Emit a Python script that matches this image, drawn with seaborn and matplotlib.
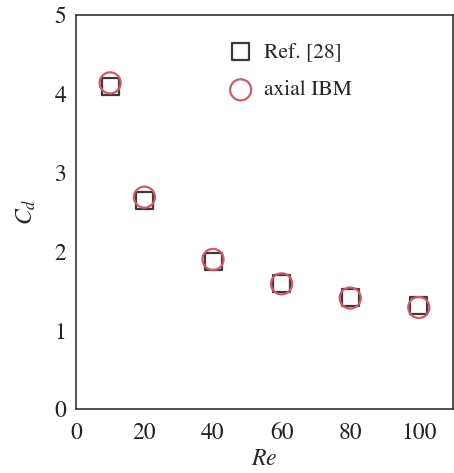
import matplotlib
matplotlib.use("Agg")
import matplotlib.pyplot as plt
import seaborn as sns
import pandas as pd

re_values = [10, 20, 40, 60, 80, 100]
cd_ref = [4.09, 2.65, 1.87, 1.59, 1.42, 1.31]
cd_ibm = [4.14, 2.69, 1.90, 1.59, 1.41, 1.29]
x_ticks = [0, 20, 40, 60, 80, 100]
y_ticks = [0, 1, 2, 3, 4, 5]

sns.set_style("white")
plt.rcParams["font.family"] = "serif"
plt.rcParams["font.serif"] = ["STIXGeneral", "Liberation Serif", "DejaVu Serif"]
plt.rcParams["mathtext.fontset"] = "stix"

fig = plt.figure(figsize=(4.54, 4.73), dpi=100)
ax = fig.add_axes([0.167, 0.135, 0.831, 0.833])

df = pd.DataFrame({"Re": re_values, "ref": cd_ref, "ibm": cd_ibm})
sns.scatterplot(data=df, x="Re", y="ref", marker="s", s=150, facecolors="none",
                edgecolor="#3a3a3a", linewidth=1.6, label="Ref. [28]", ax=ax, zorder=3)
sns.scatterplot(data=df, x="Re", y="ibm", marker="o", s=230, facecolors="none",
                edgecolor="#d05a68", linewidth=1.6, label="axial IBM", ax=ax, zorder=4)

ax.set_xlim(0, 110)
ax.set_ylim(0, 5)
ax.set_xticks(x_ticks)
ax.set_yticks(y_ticks)
ax.tick_params(axis="both", direction="in", length=5, width=1.2, labelsize=17,
               color="#333333", labelcolor="#222222")
ax.tick_params(axis="x", pad=10)
ax.tick_params(axis="y", pad=7)
for side in ["left", "bottom", "top", "right"]:
    ax.spines[side].set_color("#333333")
    ax.spines[side].set_linewidth(1.2)

ax.set_xlabel("$Re$", fontsize=17, labelpad=3)
ax.set_ylabel("$C_d$", fontsize=17, labelpad=12)

ax.legend(loc="upper left", bbox_to_anchor=(0.34, 0.97), frameon=False,
          fontsize=15.5, handletextpad=0.1, labelspacing=0.85, borderpad=0.2)

fig.savefig("out.png", dpi=100)
